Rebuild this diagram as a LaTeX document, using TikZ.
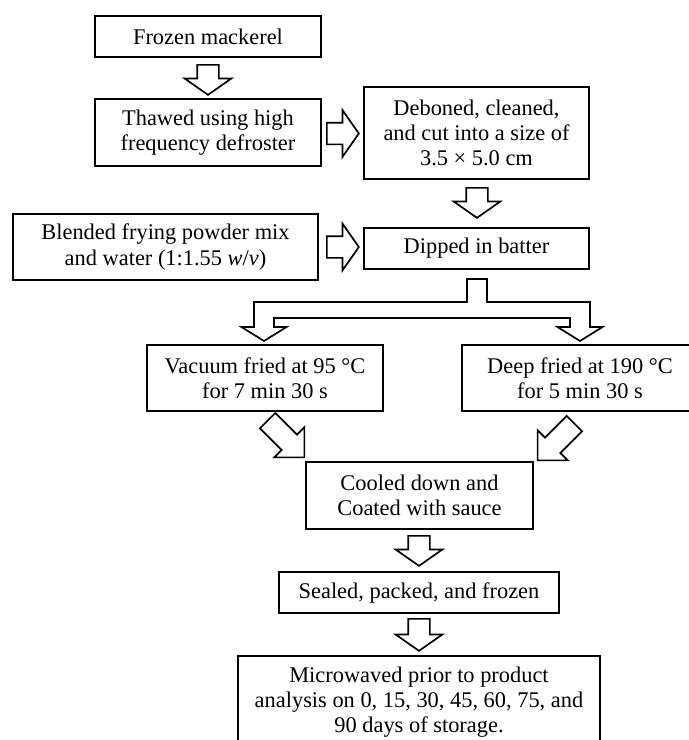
\documentclass[tikz,border=0pt]{standalone}
\usepackage{fontspec}
\setmainfont{Liberation Serif}
\usepackage{tikz}
\usetikzlibrary{shapes.arrows}

\tikzset{
  stepbox/.style={draw, line width=1pt, align=center, inner sep=0pt, font=\fontsize{11.2}{12.6}\selectfont},
  bigarrow/.style={draw, single arrow, line width=0.85pt, inner xsep=0pt, inner ysep=5pt,
    single arrow head extend=6.25pt, single arrow tip angle=110, minimum height=15pt},
  diagarrow/.style={bigarrow, single arrow head extend=5.25pt, single arrow tip angle=90, minimum height=26pt}
}

\begin{document}
\begin{tikzpicture}[x=0.5pt, y=-0.5pt]
  \useasboundingbox (0,0) rectangle (689,740);
  \clip (0,0) rectangle (689,740);
  \node[stepbox, minimum width=113pt, minimum height=20.5pt] (frozen) at (208,36.5) {Frozen mackerel};
  \node[stepbox, minimum width=113pt, minimum height=33.5pt] (thawed) at (208,132.5) {Thawed using high\\frequency defroster};
  \node[stepbox, minimum width=112.5pt, minimum height=46pt] (deboned) at (476.5,133) {Deboned, cleaned,\\and cut into a size of\\3.5 × 5.0 cm};
  \node[stepbox, minimum width=152.5pt, minimum height=33pt] (blended) at (165.5,247) {Blended frying powder mix\\and water (1:1.55 \textit{w}/\textit{v})};
  \node[stepbox, minimum width=112.5pt, minimum height=20.5pt] (dipped) at (476.5,248.5) {Dipped in batter};
  \node[stepbox, minimum width=118pt, minimum height=33pt] (vacuum) at (265,378) {Vacuum fried at 95 °C\\for 7 min 30 s};
  \node[stepbox, minimum width=118pt, minimum height=33pt] (deep) at (580,378) {Deep fried at 190 °C\\for 5 min 30 s};
  \node[stepbox, minimum width=113.5pt, minimum height=33.5pt] (cooled) at (419.5,495.5) {Cooled down and\\Coated with sauce};
  \node[stepbox, minimum width=140pt, minimum height=20.5pt] (sealed) at (419,592.5) {Sealed, packed, and frozen};
  \node[stepbox, minimum width=181pt, minimum height=46pt] (micro) at (419,702) {Microwaved prior to product\\analysis on 0, 15, 30, 45, 60, 75, and\\90 days of storage.};

  % block arrows
  \node[bigarrow, rotate=-90, anchor=tail] (a1) at (208,64) {};
  \node[bigarrow, anchor=tail, minimum height=16pt] (a2) at (326,133.5) {};
  \node[bigarrow, rotate=-90, anchor=tail] (a3) at (477,187) {};
  \node[bigarrow, anchor=tail, minimum height=16pt] (a4) at (326,247) {};
  \node[diagarrow, rotate=-45, anchor=tail] (a5) at (267,420) {};
  \node[diagarrow, rotate=-135, anchor=tail] (a6) at (575,423) {};
  \node[bigarrow, rotate=-90, anchor=tail] (a7) at (419,535) {};
  \node[bigarrow, rotate=-90, anchor=tail, minimum height=16pt] (a8) at (419,618) {};

  % split arrow under the batter step
  \draw[line width=0.85pt] (467,279) -- (487,279) -- (487,302) -- (590,302) -- (590,327)
    -- (602.5,327) -- (580,341) -- (557.5,327) -- (570,327) -- (570,318) -- (274,318)
    -- (274,327) -- (286.5,327) -- (264,341) -- (241.5,327) -- (254,327) -- (254,302)
    -- (467,302) -- cycle;
\end{tikzpicture}
\end{document}
